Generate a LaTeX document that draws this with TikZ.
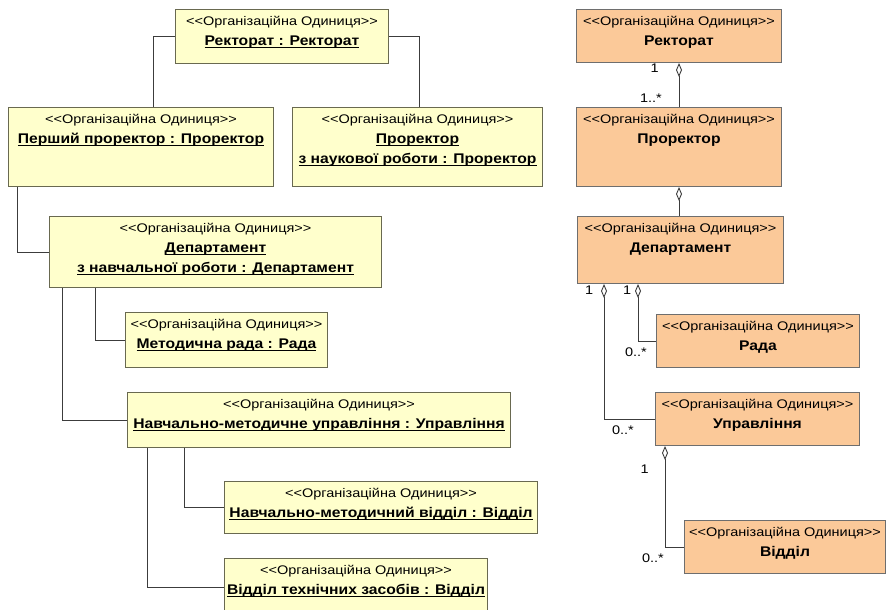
\documentclass[tikz,border=0pt]{standalone}
\usepackage{fontspec}
\setmainfont{Liberation Sans}
\newfontfamily\stereoFamily{Liberation Sans}[FakeStretch=1.16]
\newfontfamily\nameFamily{Liberation Sans}[FakeStretch=1.12]
\usepackage{xcolor}
\usepackage{tikz}
\usetikzlibrary{positioning}
\usetikzlibrary{arrows.meta}

\definecolor{objFill}{RGB}{255,255,204}
\definecolor{objLine}{RGB}{105,105,80}
\definecolor{clsFill}{RGB}{251,201,153}
\definecolor{clsLine}{RGB}{110,110,110}
\definecolor{wireGray}{RGB}{60,60,60}

% Text of the boxes
\newsavebox{\nameBox}
\newcommand{\stereoLine}{{\stereoFamily\fontsize{12.5}{20}\selectfont <{}<Організаційна Одиниця>{}>}}
\newcommand{\objName}[1]{{\nameFamily\bfseries\fontsize{14}{20}\selectfont
    \sbox{\nameBox}{#1}\rlap{\rule[-3pt]{\wd\nameBox}{1.3pt}}\usebox{\nameBox}}}
\newcommand{\clsName}[1]{{\nameFamily\bfseries\fontsize{14}{20}\selectfont #1}}

\begin{document}
\begin{tikzpicture}[x=1pt, y=-1pt,
        objbox/.style={draw=objLine, fill=objFill, line width=1pt, inner sep=0pt, anchor=north west},
        clsbox/.style={draw=clsLine, fill=clsFill, line width=1pt, inner sep=0pt, anchor=north west},
        boxtext/.style={align=center, inner sep=1pt, font=\fontsize{13}{20}\selectfont},
        wire/.style={draw=wireGray, line width=0.9pt},
        agg/.style={wire, {Diamond[open, length=14pt, width=6pt]}-},
        mult/.style={inner sep=1pt, font=\stereoFamily\fontsize{12.5}{14}\selectfont}]

        \useasboundingbox (0,0) rectangle (886,610);

        % Object diagram
        \node[objbox, minimum width=213pt, minimum height=54pt] (rek) at (175,9) {};
        \node[objbox, minimum width=265pt, minimum height=79pt] (pers) at (8,107) {};
        \node[objbox, minimum width=250pt, minimum height=79pt] (pron) at (292,107) {};
        \node[objbox, minimum width=332pt, minimum height=71pt] (dep) at (49,216) {};
        \node[objbox, minimum width=202pt, minimum height=55pt] (metrada) at (125,312) {};
        \node[objbox, minimum width=383pt, minimum height=55pt] (nmu) at (127,392) {};
        \node[objbox, minimum width=313pt, minimum height=52pt] (nmv) at (224,481) {};
        \node[objbox, minimum width=263pt, minimum height=58pt] (vtz) at (224,558) {};

        \node[boxtext, below=6pt of rek.north] (rektxt) {\stereoLine\\\objName{Ректорат : Ректорат}};
        \node[boxtext, below=6pt of pers.north] (perstxt) {\stereoLine\\\objName{Перший проректор : Проректор}};
        \node[boxtext, below=6pt of pron.north] (prontxt) {\stereoLine\\\objName{Проректор}\\\objName{з наукової роботи : Проректор}};
        \node[boxtext, below=6pt of dep.north] (deptxt) {\stereoLine\\\objName{Департамент}\\\objName{з навчальної роботи : Департамент}};
        \node[boxtext, below=6pt of metrada.north] (metradatxt) {\stereoLine\\\objName{Методична рада : Рада}};
        \node[boxtext, below=6pt of nmu.north] (nmutxt) {\stereoLine\\\objName{Навчально-методичне управління : Управління}};
        \node[boxtext, below=6pt of nmv.north] (nmvtxt) {\stereoLine\\\objName{Навчально-методичний відділ : Відділ}};
        \node[boxtext, below=6pt of vtz.north] (vtztxt) {\stereoLine\\\objName{Відділ технічних засобів : Відділ}};

        \draw[wire] (rek.west) -| ([xshift=12pt]pers.north);
        \draw[wire] (rek.east) -| ([xshift=2pt]pron.north);
        \draw[wire] ([xshift=9pt]pers.south west) |- (dep.west);
        \draw[wire] ([xshift=46pt]dep.south west) |- (metrada.west);
        \draw[wire] ([xshift=13pt]dep.south west) |- (nmu.west);
        \draw[wire] ([xshift=57pt]nmu.south west) |- (nmv.west);
        \draw[wire] ([xshift=20pt]nmu.south west) |- (vtz.west);

        % Class diagram
        \node[clsbox, minimum width=205pt, minimum height=53pt] (rrek) at (576,9) {};
        \node[clsbox, minimum width=205pt, minimum height=79pt] (rpro) at (576,107) {};
        \node[clsbox, minimum width=206pt, minimum height=67pt] (rdep) at (577,216) {};
        \node[clsbox, minimum width=203pt, minimum height=53pt] (rada) at (656,314) {};
        \node[clsbox, minimum width=204pt, minimum height=53pt] (rupr) at (655,392) {};
        \node[clsbox, minimum width=201pt, minimum height=53pt] (rvid) at (684,520) {};

        \node[boxtext, below=6pt of rrek.north] (rrektxt) {\stereoLine\\\clsName{Ректорат}};
        \node[boxtext, below=6pt of rpro.north] (rprotxt) {\stereoLine\\\clsName{Проректор}};
        \node[boxtext, below=6pt of rdep.north] (rdeptxt) {\stereoLine\\\clsName{Департамент}};
        \node[boxtext, below=6pt of rada.north] (radatxt) {\stereoLine\\\clsName{Рада}};
        \node[boxtext, below=6pt of rupr.north] (ruprtxt) {\stereoLine\\\clsName{Управління}};
        \node[boxtext, below=6pt of rvid.north] (rvidtxt) {\stereoLine\\\clsName{Відділ}};

        \draw[agg] (rrek.south) -- (rpro.north);
        \draw[agg] (rpro.south) -- (rpro.south |- rdep.north);
        \draw[agg] ([xshift=61pt]rdep.south west) |- (rada.west);
        \draw[agg] ([xshift=27pt]rdep.south west) |- (rupr.west);
        \draw[agg] ([xshift=10pt]rupr.south west) |- (rvid.west);

        % Multiplicities
        \node[mult, below left=0pt and 19pt of rrek.south] (mrek) {1};
        \node[mult, above left=3pt and 16pt of rpro.north] (mpro) {1..*};
        \node[mult, below right=1pt and 7pt of rdep.south west] (mdepa) {1};
        \node[mult, below right=1pt and 45pt of rdep.south west] (mdepb) {1};
        \node[mult, below left=6pt and 8pt of rada.west] (mrada) {0..*};
        \node[mult, below left=6pt and 20pt of rupr.west] (mupr) {0..*};
        \node[mult, below left=18pt and 5pt of rupr.south west] (muprb) {1};
        \node[mult, below left=6pt and 19pt of rvid.west] (mvid) {0..*};

\end{tikzpicture}
\end{document}
